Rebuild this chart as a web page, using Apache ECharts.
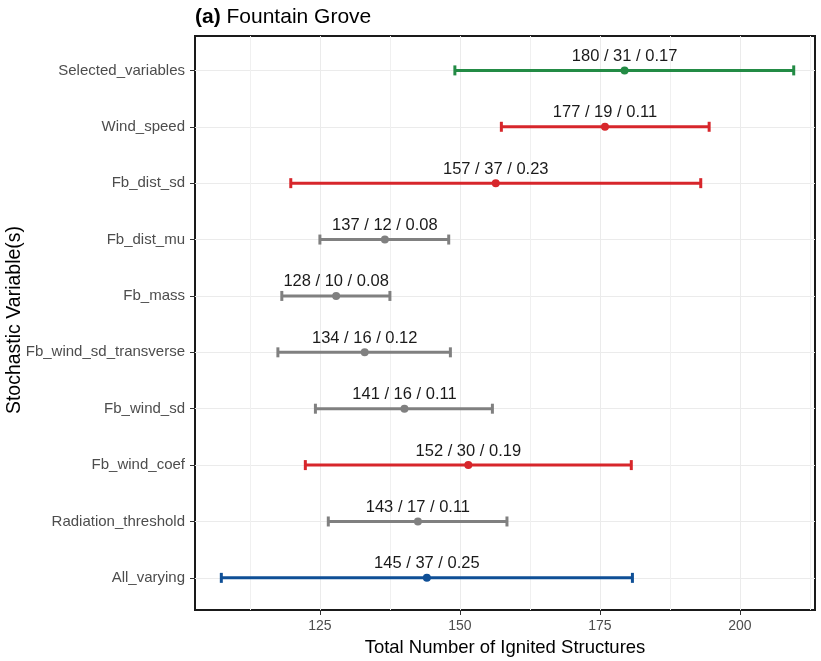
<!DOCTYPE html>
<html>
<head>
<meta charset="utf-8">
<script src="https://cdn.jsdelivr.net/npm/echarts@6/dist/echarts.min.js"></script>
<style>
  html, body { margin: 0; padding: 0; background: #fff; }
  #chart { width: 821px; height: 661px; }
</style>
</head>
<body>
<div id="chart"></div>
<script>
// ---- data ----
var categories = ['Selected_variables', 'Wind_speed', 'Fb_dist_sd', 'Fb_dist_mu', 'Fb_mass',
    'Fb_wind_sd_transverse', 'Fb_wind_sd', 'Fb_wind_coef', 'Radiation_threshold', 'All_varying'];
var pointMean = [179.4, 175.9, 156.4, 136.6, 127.9, 133.0, 140.1, 151.5, 142.5, 144.1];
var barLow    = [149.1, 157.4, 119.8, 125.0, 118.2, 117.5, 124.2, 122.4, 126.5, 107.4];
var barHigh   = [209.6, 194.5, 193.0, 148.0, 137.5, 148.3, 155.8, 180.6, 158.4, 180.8];
var labelMean = ['180', '177', '157', '137', '128', '134', '141', '152', '143', '145'];
var labelSd   = ['31', '19', '37', '12', '10', '16', '16', '30', '17', '37'];
var labelCv   = ['0.17', '0.11', '0.23', '0.08', '0.08', '0.12', '0.11', '0.19', '0.11', '0.25'];
var groups    = ['selected', 'sensitive', 'sensitive', 'other', 'other', 'other', 'other', 'sensitive', 'other', 'all'];
var xTicks = [125, 150, 175, 200];
var xMinor = [112.5, 137.5, 162.5, 187.5, 212.5];

var groupColors = { selected: '#238b45', sensitive: '#d7262b', other: '#808080', all: '#0f4f96' };
var FONT = '"Liberation Sans", Arial, sans-serif';

var yPos = categories.map(function (c, i) { return i + 1; });

var seriesData = categories.map(function (c, i) {
    return {
        value: [barLow[i], barHigh[i], pointMean[i], yPos[i]],
        label: labelMean[i] + ' / ' + labelSd[i] + ' / ' + labelCv[i],
        itemStyle: { color: groupColors[groups[i]] }
    };
});

function renderItem(params, api) {
    var y = api.value(3);
    var lo = api.coord([api.value(0), y]);
    var hi = api.coord([api.value(1), y]);
    var mid = api.coord([api.value(2), y]);
    var color = api.visual('color');
    var item = seriesData[params.dataIndex];
    var line = { stroke: color, lineWidth: 3 };
    return {
        type: 'group',
        children: [
            { type: 'line', shape: { x1: lo[0], y1: lo[1], x2: hi[0], y2: hi[1] }, style: line },
            { type: 'line', shape: { x1: lo[0], y1: lo[1] - 5, x2: lo[0], y2: lo[1] + 5 }, style: line },
            { type: 'line', shape: { x1: hi[0], y1: hi[1] - 5, x2: hi[0], y2: hi[1] + 5 }, style: line },
            { type: 'circle', shape: { cx: mid[0], cy: mid[1], r: 4 }, style: { fill: color } },
            { type: 'text', style: {
                text: item.label, x: mid[0], y: mid[1] - 14,
                align: 'center', verticalAlign: 'middle',
                fill: '#1a1a1a', font: '16.5px ' + FONT
            } }
        ]
    };
}

var chart = echarts.init(document.getElementById('chart'));
chart.setOption({
    animation: false,
    textStyle: { fontFamily: FONT },
    title: {
        text: '{b|(a)} Fountain Grove',
        left: 190, top: 2,
        textStyle: {
            fontSize: 21, fontWeight: 'normal', color: '#000', fontFamily: FONT,
            rich: { b: { fontSize: 21, fontWeight: 'bold', color: '#000', fontFamily: FONT } }
        }
    },
    // y axis title, placed by hand so it can sit close to the long tick labels
    graphic: [{
        type: 'text', x: 15, y: 320, rotation: Math.PI / 2,
        style: {
            text: 'Stochastic Variable(s)', align: 'center', verticalAlign: 'middle',
            fill: '#000', font: '19.5px ' + FONT
        }
    }],
    grid: {
        left: 195, right: 6, top: 36, bottom: 51,
        outerBoundsMode: 'none', containLabel: false,
        show: true, borderColor: '#1a1a1a', borderWidth: 2, backgroundColor: '#fff'
    },
    xAxis: [{
        type: 'value', min: 102.7, max: 213.4,
        axisLine: { show: false },
        axisTick: { show: true, customValues: xTicks, length: 5, lineStyle: { color: '#333' } },
        axisLabel: { customValues: xTicks, color: '#4d4d4d', fontSize: 14, margin: 9 },
        splitLine: { show: true, lineStyle: { color: '#ebebeb', width: 1 } },
        name: 'Total Number of Ignited Structures',
        nameLocation: 'middle', nameGap: 28,
        nameTextStyle: { fontSize: 18.5, color: '#000' }
    }, {
        type: 'value', min: 102.7, max: 213.4, gridIndex: 0,
        axisLine: { show: false },
        axisTick: { show: false, customValues: xMinor },
        axisLabel: { show: false },
        splitLine: { show: true, lineStyle: { color: '#f0f0f0', width: 1 } }
    }],
    yAxis: {
        type: 'value', min: 0.39, max: 10.57, inverse: true,
        axisLine: { show: false },
        axisTick: { show: true, customValues: yPos, length: 5, lineStyle: { color: '#333' } },
        axisLabel: {
            customValues: yPos, color: '#4d4d4d', fontSize: 15, margin: 10,
            formatter: function (v) { return categories[Math.round(v) - 1] || ''; }
        },
        splitLine: { show: true, lineStyle: { color: '#ebebeb', width: 1 } }
    },
    series: [{
        type: 'custom',
        xAxisIndex: 0,
        renderItem: renderItem,
        clip: false,
        data: seriesData
    }]
});
</script>
</body>
</html>
